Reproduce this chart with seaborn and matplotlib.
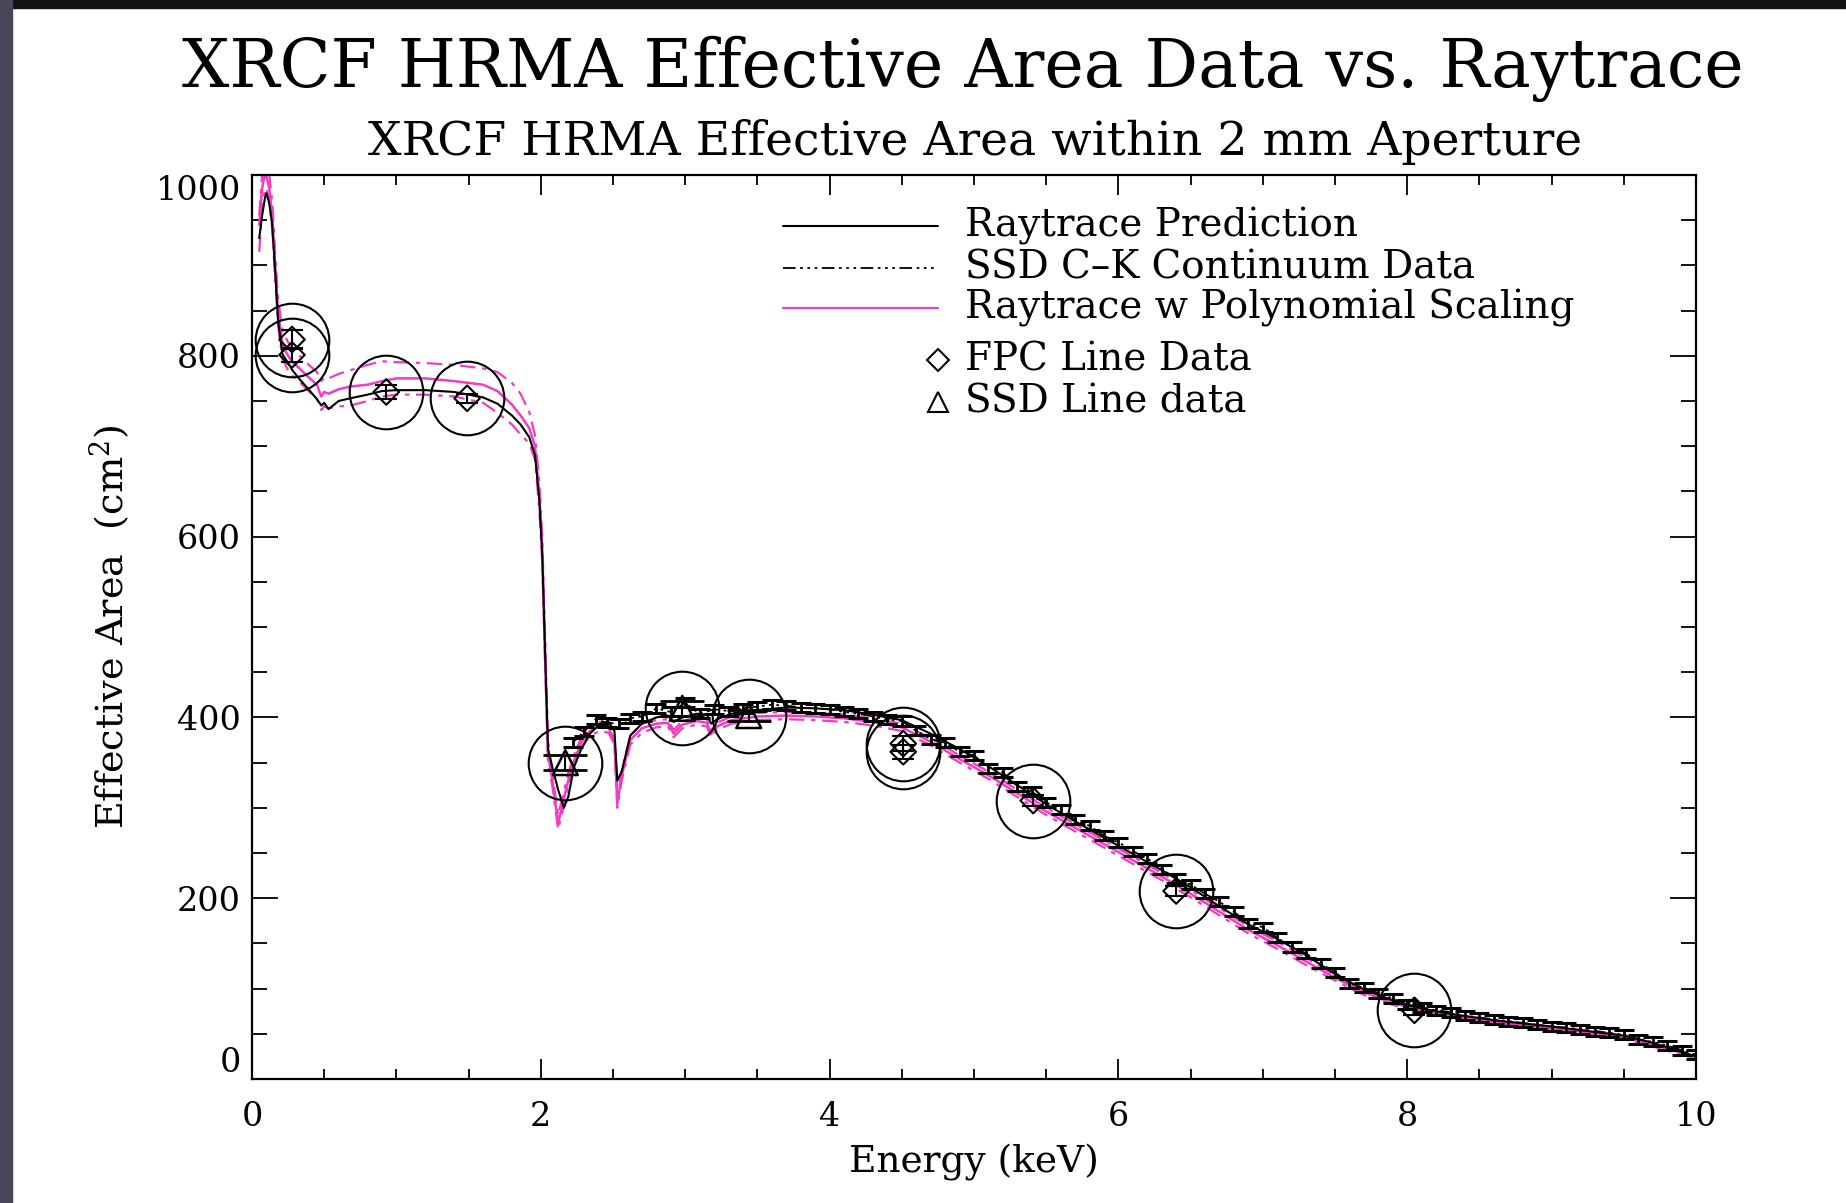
import numpy as np
import pandas as pd
import matplotlib
matplotlib.use("Agg")
import matplotlib.pyplot as plt
import seaborn as sns
from matplotlib.patches import Rectangle

# ---------------- data ----------------
energy = [0.05, 0.07, 0.09, 0.10, 0.12, 0.14, 0.16, 0.18, 0.21, 0.25, 0.28, 0.33, 0.38, 0.45,
          0.48, 0.50, 0.53, 0.60, 0.68, 0.80, 0.90, 1.0, 1.2, 1.4, 1.6, 1.7, 1.8, 1.86, 1.92,
          1.96, 1.99, 2.01, 2.03, 2.05, 2.08, 2.12, 2.16, 2.19, 2.23, 2.28, 2.34, 2.41, 2.47,
          2.51, 2.53, 2.56, 2.62, 2.70, 2.80, 2.88, 2.92, 2.98, 3.08, 3.15, 3.18, 3.22, 3.32,
          3.50, 3.70, 3.90, 4.10, 4.30, 4.50, 4.70, 4.90, 5.10, 5.30, 5.50, 5.70, 5.90, 6.10,
          6.30, 6.50, 6.70, 6.90, 7.10, 7.30, 7.50, 7.70, 7.90, 8.10, 8.30, 8.60, 9.00, 9.30,
          9.50, 9.70, 9.90, 10.0]

raytrace = [930, 955, 975, 980, 968, 945, 895, 840, 802, 792, 784, 774, 765, 752,
            745, 748, 741, 750, 753, 757, 761, 762, 762, 760, 754, 747, 734, 724, 710,
            690, 640, 580, 470, 365, 345, 320, 300, 312, 345, 365, 382, 393, 395,
            385, 330, 340, 380, 393, 400, 402, 395, 400, 404, 403, 393, 398, 404,
            408, 411, 410, 408, 403, 397, 382, 365, 346, 325, 304, 285, 267, 249,
            231, 212, 191, 171, 155, 137, 116, 99, 87, 78, 72, 65, 58, 52,
            48, 40, 30, 25]

poly_scaled = [945, 985, 1002, 998, 985, 955, 900, 850, 812, 800, 793, 786, 778, 768,
               755, 760, 758, 763, 766, 768, 772, 775, 775, 772, 768, 761, 746, 734, 720,
               700, 645, 585, 470, 360, 330, 283, 310, 330, 352, 372, 385, 390, 388,
               375, 305, 335, 375, 388, 393, 394, 382, 392, 396, 394, 382, 390, 397,
               401, 402, 401, 399, 395, 389, 373, 354, 336, 316, 296, 278, 260, 242,
               224, 205, 185, 165, 148, 130, 112, 96, 84, 76, 70, 63, 56, 51,
               46, 38, 29, 24]

poly_upper = [955, 1000, 1015, 1012, 1000, 970, 915, 865, 828, 815, 808, 800, 792, 782,
              772, 776, 775, 780, 784, 790, 794, 793, 792, 790, 786, 782, 770, 758, 738,
              712, 660, 600, 490, 375, 338, 292, 318, 338, 358, 378, 390, 395, 393,
              380, 310, 340, 380, 393, 397, 398, 386, 396, 400, 398, 386, 394, 401,
              405, 406, 405, 403, 399, 393, 377, 358, 340, 320, 300, 282, 264, 246,
              228, 209, 189, 169, 152, 134, 115, 99, 86, 78, 72, 65, 58, 53,
              48, 40, 31, 25]

poly_lower = [915, 960, 985, 985, 972, 940, 885, 835, 797, 784, 778, 771, 763, 752,
              740, 744, 742, 744, 745, 750, 755, 757, 757, 755, 748, 737, 724, 713, 703,
              685, 630, 570, 455, 350, 324, 276, 303, 323, 346, 366, 380, 385, 383,
              370, 300, 330, 370, 383, 389, 390, 378, 388, 392, 390, 378, 386, 393,
              397, 398, 397, 395, 391, 385, 369, 350, 332, 312, 292, 274, 256, 238,
              220, 201, 181, 161, 144, 126, 109, 93, 82, 74, 68, 61, 54, 49,
              44, 36, 27, 23]

ssd_cont_energy = [2.22, 2.30, 2.38, 2.46, 2.54, 2.62, 2.70, 2.80, 2.90, 3.00, 3.10, 3.20,
                   3.30, 3.40, 3.50, 3.60, 3.70, 3.80, 3.90, 4.00, 4.10, 4.20, 4.30, 4.40,
                   4.50, 4.60, 4.70, 4.80, 4.90, 5.00, 5.10, 5.20, 5.30, 5.40, 5.50, 5.60,
                   5.70, 5.80, 5.90, 6.00, 6.10, 6.20, 6.30, 6.40, 6.50, 6.60, 6.70, 6.80,
                   6.90, 7.00, 7.10, 7.20, 7.30, 7.40, 7.50, 7.60, 7.70, 7.80, 7.90, 8.00,
                   8.10, 8.20, 8.30, 8.40, 8.50, 8.60, 8.70, 8.80, 8.90, 9.00, 9.10, 9.20,
                   9.30, 9.40, 9.50, 9.60, 9.70, 9.80, 9.90, 10.0]
ssd_cont_area = [372, 384, 398, 394, 393, 399, 401, 410, 406, 416, 404, 409,
                 407, 410, 412, 414, 413, 411, 410, 409, 406, 404, 401, 398,
                 396, 385, 376, 372, 362, 358, 344, 339, 324, 318, 306, 298,
                 287, 280, 269, 262, 252, 244, 232, 222, 215, 205, 196, 185,
                 172, 168, 156, 146, 139, 128, 118, 106, 101, 95, 89, 82,
                 79, 76, 74, 70, 68, 66, 64, 62, 60, 58, 57, 55,
                 53, 51, 49, 44, 41, 37, 32, 27]
ssd_cont_err = [5] * len(ssd_cont_area)

fpc_energy = [0.277, 0.277, 0.93, 1.49, 4.51, 4.51, 5.41, 6.40, 8.05]
fpc_area = [818, 801, 760, 753, 371, 362, 308, 208, 76]
fpc_err = [10, 8, 8, 5, 8, 8, 6, 6, 5]

ssd_line_energy = [2.17, 2.98, 3.44]
ssd_line_area = [350, 410, 402]
ssd_line_err = [8, 8, 6]

x_ticks = [0, 2, 4, 6, 8, 10]
y_ticks = [0, 200, 400, 600, 800, 1000]

title_main = "XRCF HRMA Effective Area Data vs. Raytrace"
title_sub = "XRCF HRMA Effective Area within 2 mm Aperture"
legend_labels = ["Raytrace Prediction", "SSD C\u2013K Continuum Data",
                 "Raytrace w Polynomial Scaling", "FPC Line Data", "SSD Line data"]

# ---------------- style ----------------
sns.set_theme(style="white")
plt.rcParams["font.family"] = ["DejaVu Serif"]
plt.rcParams["mathtext.fontset"] = "dejavuserif"
plt.rcParams["text.color"] = "black"
plt.rcParams["axes.labelcolor"] = "black"
plt.rcParams["xtick.color"] = "black"
plt.rcParams["ytick.color"] = "black"

MAG = "#f23cc2"
BLK = "black"
DASHDOT3 = (0, (7, 2.5, 1.5, 2.5, 1.5, 2.5, 1.5, 2.5))

fig = plt.figure(figsize=(18.46, 12.03), dpi=100)
fig.patch.set_facecolor("white")
# slide background strips
fig.add_artist(Rectangle((0, 1 - 8 / 1203), 1, 8 / 1203, transform=fig.transFigure,
                         color="#121216", zorder=0))
fig.add_artist(Rectangle((0, 0), 12 / 1846, 1, transform=fig.transFigure,
                         color="#4a4658", zorder=0))

ax = fig.add_axes([252 / 1846, 1 - 1079 / 1203, (1696 - 252) / 1846, (1079 - 175) / 1203])

df = pd.DataFrame({"E": energy, "ray": raytrace, "poly": poly_scaled,
                   "up": poly_upper, "lo": poly_lower})

sns.lineplot(data=df, x="E", y="up", ax=ax, color=MAG, lw=1.6, linestyle=(0, (7, 3, 2, 3)),
             sort=False, estimator=None)
sns.lineplot(data=df, x="E", y="lo", ax=ax, color=MAG, lw=1.6, linestyle=(0, (7, 3, 2, 3)),
             sort=False, estimator=None)
sns.lineplot(data=df, x="E", y="poly", ax=ax, color=MAG, lw=1.8, sort=False, estimator=None)
sns.lineplot(data=df, x="E", y="ray", ax=ax, color=BLK, lw=1.5, sort=False, estimator=None)

# SSD continuum with error bars
dfc = pd.DataFrame({"E": ssd_cont_energy, "A": ssd_cont_area})
sns.lineplot(data=dfc, x="E", y="A", ax=ax, color=BLK, lw=1.3, linestyle=DASHDOT3,
             sort=False, estimator=None)
ax.errorbar(ssd_cont_energy, ssd_cont_area, yerr=ssd_cont_err, fmt="none", ecolor=BLK,
            elinewidth=2, capsize=7, capthick=2.2)

# Line data points
ax.errorbar(fpc_energy, fpc_area, yerr=fpc_err, fmt="none", ecolor=BLK, elinewidth=1.5,
            capsize=8, capthick=1.5)
ax.errorbar(ssd_line_energy, ssd_line_area, yerr=ssd_line_err, fmt="none", ecolor=BLK,
            elinewidth=1.5, capsize=16, capthick=2)
sns.scatterplot(x=fpc_energy, y=fpc_area, ax=ax, marker="D", s=170, facecolor="none",
                edgecolor=BLK, linewidth=1.5, zorder=5)
sns.scatterplot(x=ssd_line_energy, y=ssd_line_area, ax=ax, marker="^", s=320,
                facecolor="none", edgecolor=BLK, linewidth=1.8, zorder=5)
# highlight circles
ax.plot(fpc_energy + ssd_line_energy, fpc_area + ssd_line_area, ls="none", marker="o",
        markersize=53, markerfacecolor="none", markeredgecolor=BLK, markeredgewidth=1.5,
        zorder=6)

# axes
ax.set_xlim(0, 10)
ax.set_ylim(0, 1000)
ax.set_xticks(x_ticks)
ax.set_yticks(y_ticks)
ax.set_xticks(np.arange(0, 10.01, 0.5), minor=True)
ax.set_yticks(np.arange(0, 1000.1, 50), minor=True)
ax.set_xticklabels([str(v) for v in x_ticks], fontsize=24)
ax.set_yticklabels([str(v) for v in y_ticks], fontsize=24)
ax.tick_params(axis="x", which="major", direction="in", length=14.5, width=1.3,
               top=True, bottom=True, pad=16, colors=BLK)
ax.tick_params(axis="x", which="minor", direction="in", length=7.5, width=1.3,
               top=True, bottom=True)
ax.tick_params(axis="y", which="major", direction="in", length=19, width=1.3,
               left=True, right=True, pad=8, colors=BLK)
ax.tick_params(axis="y", which="minor", direction="in", length=10.5, width=1.3,
               left=True, right=True)
ylabs = ax.get_yticklabels()
ylabs[0].set_va("bottom")
ylabs[-1].set_va("top")
for s in ax.spines.values():
    s.set_color(BLK)
    s.set_linewidth(1.6)
    s.set_visible(True)

ax.set_xlabel("Energy (keV)", fontsize=27, labelpad=8, color=BLK)
ax.set_ylabel("Effective Area  (cm$^2$)", fontsize=27.5, labelpad=16, color=BLK)

fig.text(0.5215, 0.943, title_main, ha="center", va="center", fontsize=48, color=BLK)
fig.text(0.528, 0.882, title_sub, ha="center", va="center", fontsize=34, color=BLK)

# legend (drawn manually to mimic layout)
lx0, lx1, tx = 0.3676, 0.475, 0.4939
ly = [0.944, 0.897, 0.853, 0.795, 0.749]
ax.plot([lx0, lx1], [ly[0], ly[0]], transform=ax.transAxes, color=BLK, lw=1.5)
ax.plot([lx0, lx1], [ly[1], ly[1]], transform=ax.transAxes, color=BLK, lw=1.3,
        linestyle=DASHDOT3)
ax.plot([lx0, lx1], [ly[2], ly[2]], transform=ax.transAxes, color=MAG, lw=1.6)
ax.plot([lx1], [ly[3]], transform=ax.transAxes, marker="D", ms=11, mfc="none", mec=BLK,
        mew=1.5, ls="none")
ax.plot([lx1], [ly[4]], transform=ax.transAxes, marker="^", ms=15, mfc="none", mec=BLK,
        mew=1.5, ls="none")
for yy, lab in zip(ly, legend_labels):
    ax.text(tx, yy, lab, transform=ax.transAxes, fontsize=28, va="center", ha="left",
            color=BLK)

fig.savefig("out.png", dpi=100)
